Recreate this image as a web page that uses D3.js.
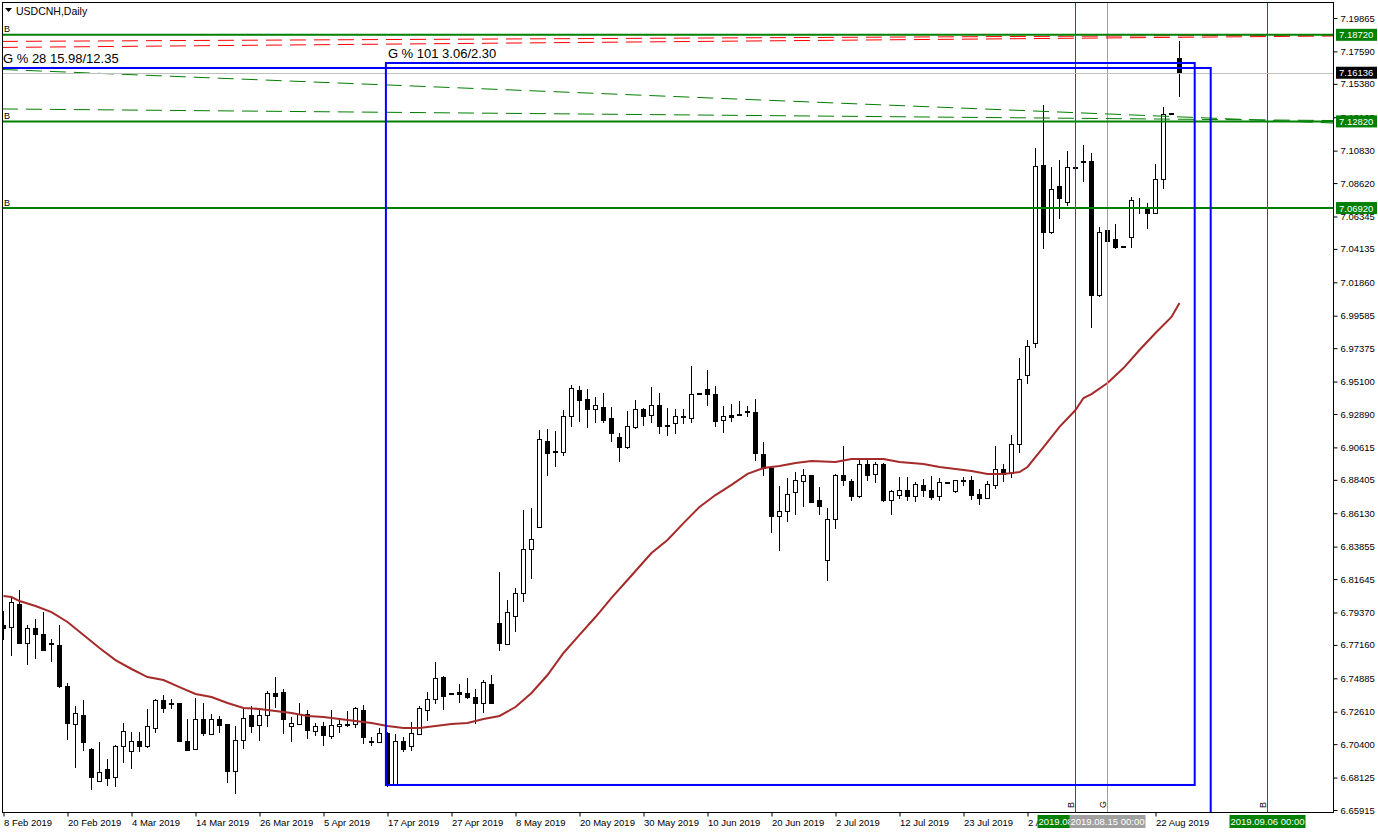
<!DOCTYPE html>
<html><head><meta charset="utf-8">
<script src="https://cdn.jsdelivr.net/npm/d3@7/dist/d3.min.js"></script>
<style>
html,body{margin:0;padding:0;background:#fff;}
svg{display:block;}
text{font-family:"Liberation Sans",Arial,sans-serif;}
</style></head>
<body><div id="chart"></div>
<script>
// ---------- DATA ----------
const symbolTitle = "USDCNH,Daily";
const openP = [6.7845,6.7838,6.7988,6.7729,6.7825,6.7790,6.7724,6.7715,6.7436,6.7177,6.7232,6.7007,6.6789,6.6864,6.6810,6.7027,6.6993,6.7055,6.7021,6.7150,6.7334,6.7315,6.7314,6.7061,6.7007,6.7211,6.7109,6.7205,6.7171,6.6857,6.7068,6.7232,6.7164,6.7232,6.7382,6.7389,6.7157,6.7177,6.7245,6.7123,6.7157,6.7089,6.7157,6.7177,6.7177,6.7266,6.7048,6.7048,6.7116,6.6762,6.7061,6.7021,6.7109,6.7266,6.7341,6.7491,6.7382,6.7395,6.7382,6.7361,6.7314,6.7443,6.7859,6.7722,6.7913,6.8063,6.8363,6.8519,6.9105,6.9029,6.9030,6.9269,6.9446,6.9391,6.9323,6.9330,6.9255,6.9132,6.9064,6.9194,6.9323,6.9276,6.9350,6.9214,6.9221,6.9270,6.9255,6.9426,6.9453,6.9425,6.9242,6.9282,6.9283,6.9303,6.9296,6.9016,6.8921,6.8594,6.8622,6.8751,6.8826,6.8867,6.8703,6.8288,6.8567,6.8867,6.8826,6.8724,6.8948,6.8880,6.8942,6.8697,6.8737,6.8765,6.8724,6.8799,6.8765,6.8724,6.8820,6.8758,6.8839,6.8833,6.8744,6.8710,6.8799,6.8908,6.8887,6.9078,6.9548,6.9766,7.0979,7.0522,7.0842,7.0727,7.0966,7.1006,7.1012,7.0093,7.0542,7.0481,7.0427,7.0488,7.0693,7.0693,7.0658,7.0883,7.1329,7.1714];
const highP = [6.7947,6.8036,6.8090,6.7852,6.7893,6.7940,6.7756,6.7852,6.7457,6.7300,6.7341,6.7014,6.7055,6.6939,6.7034,6.7184,6.7123,6.7123,6.7280,6.7348,6.7375,6.7348,6.7317,6.7211,6.7354,6.7320,6.7245,6.7232,6.7174,6.7164,6.7280,6.7300,6.7286,6.7402,6.7497,6.7416,6.7225,6.7320,6.7273,6.7184,6.7191,6.7273,6.7218,6.7266,6.7293,6.7307,6.7089,6.7150,6.7120,6.7109,6.7089,6.7191,6.7300,6.7395,6.7600,6.7504,6.7389,6.7450,6.7491,6.7416,6.7477,6.7511,6.8213,6.8022,6.8104,6.8635,6.8649,6.9180,6.9187,6.9173,6.9316,6.9487,6.9480,6.9459,6.9405,6.9432,6.9337,6.9160,6.9309,6.9384,6.9330,6.9473,6.9432,6.9330,6.9323,6.9323,6.9616,6.9427,6.9589,6.9480,6.9344,6.9357,6.9378,6.9344,6.9391,6.9098,6.8928,6.8799,6.8853,6.8894,6.8914,6.8874,6.8792,6.8649,6.8881,6.9071,6.8846,6.8989,6.8989,6.8962,6.8955,6.8771,6.8860,6.8860,6.8826,6.8846,6.8867,6.8853,6.8821,6.8839,6.8860,6.8867,6.8778,6.8833,6.9071,6.8948,6.9146,6.9670,6.9793,7.1101,7.1394,7.0972,7.1019,7.1080,7.0967,7.1122,7.1067,7.0563,7.0645,7.0583,7.0429,7.0767,7.0760,7.0726,7.0992,7.1380,7.1335,7.1830];
const lowP = [6.7750,6.7641,6.7725,6.7579,6.7620,6.7678,6.7600,6.7423,6.7068,6.6878,6.6993,6.6728,6.6785,6.6755,6.6748,6.6912,6.6871,6.6987,6.7014,6.7116,6.7252,6.7280,6.7052,6.6993,6.7000,6.7096,6.7106,6.7116,6.6775,6.6701,6.7007,6.7116,6.7061,6.7157,6.7286,6.7109,6.7055,6.7174,6.7075,6.7096,6.7027,6.7075,6.7116,6.7157,6.7150,6.7041,6.7027,6.7045,6.6748,6.6755,6.6987,6.6993,6.7102,6.7198,6.7314,6.7273,6.7375,6.7320,6.7348,6.7177,6.7252,6.7317,6.7675,6.7715,6.7804,6.8008,6.8165,6.8516,6.8867,6.8928,6.9003,6.9201,6.9235,6.9194,6.9228,6.9228,6.9098,6.8962,6.9051,6.9190,6.9207,6.9228,6.9153,6.9139,6.9153,6.9221,6.9228,6.9423,6.9344,6.9201,6.9160,6.9235,6.9279,6.9269,6.8969,6.8867,6.8478,6.8356,6.8553,6.8601,6.8656,6.8680,6.8601,6.8152,6.8506,6.8799,6.8697,6.8717,6.8833,6.8819,6.8690,6.8601,6.8710,6.8697,6.8690,6.8724,6.8703,6.8697,6.8817,6.8751,6.8799,6.8703,6.8669,6.8707,6.8778,6.8826,6.8853,6.9023,6.9493,6.9739,7.0413,7.0515,7.0617,7.0706,7.0963,7.0869,6.9875,7.0086,7.0290,7.0416,7.0418,7.0420,7.0651,7.0549,7.0655,7.0822,7.1327,7.1448];
const closeP = [6.7831,6.8002,6.7729,6.7825,6.7784,6.7681,6.7720,6.7436,6.7184,6.7252,6.7048,6.6816,6.6850,6.6803,6.7027,6.7123,6.7061,6.7027,6.7157,6.7334,6.7286,6.7313,6.7055,6.7000,6.7211,6.7116,6.7205,6.7164,6.6857,6.7068,6.7218,6.7157,6.7232,6.7382,6.7368,6.7211,6.7184,6.7239,6.7136,6.7157,6.7096,6.7164,6.7177,6.7164,6.7280,6.7082,6.7061,6.7116,6.6755,6.7061,6.7007,6.7116,6.7280,6.7341,6.7484,6.7368,6.7381,6.7375,6.7361,6.7320,6.7463,6.7320,6.7729,6.7940,6.8063,6.8363,6.8431,6.9112,6.9023,6.9031,6.9275,6.9466,6.9378,6.9323,6.9344,6.9248,6.9153,6.9064,6.9201,6.9323,6.9269,6.9350,6.9201,6.9201,6.9269,6.9268,6.9425,6.9424,6.9425,6.9235,6.9269,6.9262,6.9281,6.9296,6.9023,6.8921,6.8594,6.8622,6.8744,6.8833,6.8867,6.8683,6.8656,6.8567,6.8867,6.8833,6.8724,6.8942,6.8867,6.8942,6.8703,6.8758,6.8771,6.8724,6.8806,6.8771,6.8717,6.8819,6.8818,6.8833,6.8826,6.8737,6.8710,6.8812,6.8914,6.8874,6.9078,6.9527,6.9746,7.0972,7.0522,7.0815,7.0754,7.0965,7.0964,7.1004,7.0093,7.0522,7.0467,7.0420,7.0420,7.0740,7.0691,7.0658,7.0883,7.1326,7.1333,7.16136];
// moving average read at bar indices
const maIdx = [0,1,2,4,6,8,10,12,14,16,18,20,22,24,26,28,30,32,34,36,38,40,42,44,46,48,50,52,54,56,58,60,62,64,66,68,70,72,74,76,78,81,83,85,87,89,91,93,95,97,99,101,104,106,108,110,112,115,117,119,121,123,125,127,128,130,132,134,135,136,138,140,142,144,146,147];
const maVal = [6.8049,6.8042,6.8015,6.7981,6.7940,6.7872,6.7784,6.7695,6.7613,6.7552,6.7497,6.7477,6.7429,6.7382,6.7361,6.7320,6.7286,6.7280,6.7266,6.7252,6.7232,6.7225,6.7211,6.7198,6.7184,6.7164,6.7150,6.7150,6.7164,6.7177,6.7184,6.7211,6.7232,6.7293,6.7389,6.7511,6.7661,6.7784,6.7906,6.8036,6.8158,6.8342,6.8431,6.8546,6.8656,6.8737,6.8806,6.8881,6.8921,6.8935,6.8955,6.8969,6.8962,6.8983,6.8983,6.8983,6.8962,6.8948,6.8928,6.8914,6.8901,6.8880,6.8880,6.8894,6.8928,6.9064,6.9201,6.9316,6.9398,6.9425,6.9500,6.9602,6.9725,6.9841,6.9950,7.0045];
const priceTicks = [7.19865,7.17590,7.15380,7.13105,7.10830,7.08620,7.06345,7.04135,7.01860,6.99585,6.97375,6.95100,6.92890,6.90615,6.88405,6.86130,6.83855,6.81645,6.79370,6.77160,6.74885,6.72610,6.70400,6.68125,6.65915];
const dateTickIdx = [0,8,16,24,32,40,48,56,64,72,80,88,96,104,112,120,128,144];
const dateTickLabels = ["8 Feb 2019","20 Feb 2019","4 Mar 2019","14 Mar 2019","26 Mar 2019","5 Apr 2019","17 Apr 2019","27 Apr 2019","8 May 2019","20 May 2019","30 May 2019","10 Jun 2019","20 Jun 2019","2 Jul 2019","12 Jul 2019","23 Jul 2019","2 Aug 2019","22 Aug 2019"];
// objects
const levelPrices = [7.18720, 7.12820, 7.06920];
const lastPrice = 7.16136;
const redTrends = [[[-0.2,7.1827],[166.2,7.1871]], [[-0.2,7.1786],[166.2,7.1864]]];
const greenTrends = [[[-0.2,7.1636],[166.2,7.1271]], [[-0.2,7.1367],[166.2,7.1288]]];
const rectA = {i0:-3, i1:150.9, top:7.1646, bottom:6.60, label:"G % 28 15.98/12.35"};
const rectB = {i0:47.8, i1:148.9, top:7.1680, bottom:6.6762, label:"G % 101 3.06/2.30"};
const vLines = [{i:134, color:"#008000", tag:"B", date:"2019.08.09 00:00"},
                {i:138, color:"#a0a0a0", tag:"G", date:"2019.08.15 00:00"},
                {i:158, color:"#008000", tag:"B", date:"2019.09.06 00:00"}];

// ---------- LAYOUT ----------
const W = 1378, H = 834;
const L = 2, T = 2, R = 1333, B = 812;
const svg = d3.select("#chart").append("svg").attr("width", W).attr("height", H);
svg.append("rect").attr("width", W).attr("height", H).attr("fill", "#fff");

const x = d3.scaleLinear().domain([0, 147]).range([3.5, 3.5 + 8 * 147]);
const y = d3.scaleLinear().domain([6.65915, 7.19865]).range([810, 18]);

const defs = svg.append("defs");
defs.append("clipPath").attr("id", "plotclip").append("rect")
  .attr("x", L).attr("y", T).attr("width", R - L).attr("height", B - T);
const plot = svg.append("g").attr("clip-path", "url(#plotclip)");

// candles
const candles = d3.range(openP.length).map(i => ({i, o: openP[i], h: highP[i], l: lowP[i], c: closeP[i]}));
const cg = plot.append("g").attr("shape-rendering", "crispEdges");
cg.selectAll("line.wick").data(candles).join("line")
  .attr("x1", d => x(d.i)).attr("x2", d => x(d.i))
  .attr("y1", d => y(d.h)).attr("y2", d => y(d.l))
  .attr("stroke", "#000").attr("stroke-width", 1);
cg.selectAll("rect.body").data(candles).join("rect")
  .attr("x", d => x(d.i) - 2).attr("width", 4)
  .attr("y", d => y(Math.max(d.o, d.c)))
  .attr("height", d => Math.max(0.01, Math.abs(y(d.o) - y(d.c))))
  .attr("fill", d => d.c < d.o ? "#000" : "#fff")
  .attr("stroke", "#000").attr("stroke-width", 1);

// moving average
plot.append("path").datum(maIdx.map((d, k) => [d, maVal[k]]))
  .attr("d", d3.line().x(d => x(d[0])).y(d => y(d[1])))
  .attr("fill", "none").attr("stroke", "#a52a2a").attr("stroke-width", 2);

// objects: vertical lines
plot.selectAll("line.v").data(vLines).join("line")
  .attr("x1", d => x(d.i)).attr("x2", d => x(d.i)).attr("y1", T).attr("y2", B)
  .attr("stroke", d => d.color).attr("stroke-width", 1).attr("shape-rendering", "crispEdges");
plot.selectAll("text.vtag").data(vLines).join("text")
  .attr("transform", d => `translate(${x(d.i) - 2},${B - 4}) rotate(-90)`)
  .attr("font-size", 9).attr("fill", "#000").text(d => d.tag);

// red dashed trend lines
plot.selectAll("line.red").data(redTrends).join("line")
  .attr("x1", d => x(d[0][0])).attr("y1", d => y(d[0][1]))
  .attr("x2", d => x(d[1][0])).attr("y2", d => y(d[1][1]))
  .attr("stroke", "#ff0000").attr("stroke-width", 1).attr("stroke-dasharray", "16,8");
// green dashed trend lines
plot.selectAll("line.gd").data(greenTrends).join("line")
  .attr("x1", d => x(d[0][0])).attr("y1", d => y(d[0][1]))
  .attr("x2", d => x(d[1][0])).attr("y2", d => y(d[1][1]))
  .attr("stroke", "#008000").attr("stroke-width", 1).attr("stroke-dasharray", "16,8");

// current price line
plot.append("line").attr("x1", L).attr("x2", R).attr("y1", Math.round(y(lastPrice)) + 0.5).attr("y2", Math.round(y(lastPrice)) + 0.5)
  .attr("stroke", "#c0c0c0").attr("stroke-width", 1);

// green levels
plot.selectAll("line.lvl").data(levelPrices).join("line")
  .attr("x1", L).attr("x2", R).attr("y1", d => y(d)).attr("y2", d => y(d))
  .attr("stroke", "#008000").attr("stroke-width", 2);
plot.selectAll("text.lvl").data(levelPrices).join("text")
  .attr("x", 4).attr("y", d => y(d) - 2.5).attr("font-size", 9).attr("fill", "#000").text("B");

// rectangles
[rectA, rectB].forEach(r => {
  plot.append("rect")
    .attr("x", x(r.i0)).attr("y", y(r.top))
    .attr("width", x(r.i1) - x(r.i0)).attr("height", y(r.bottom) - y(r.top))
    .attr("fill", "none").attr("stroke", "#0000ff").attr("stroke-width", 2);
});
plot.append("text").attr("x", 3).attr("y", y(rectA.top) - 5).attr("font-size", 13).attr("fill", "#000").text(rectA.label);
plot.append("text").attr("x", x(rectB.i0) + 2).attr("y", y(rectB.top) - 5).attr("font-size", 13).attr("fill", "#000").text(rectB.label);

// frame
svg.append("rect").attr("x", L + 0.5).attr("y", T + 0.5).attr("width", R - L).attr("height", B - T)
  .attr("fill", "none").attr("stroke", "#000").attr("stroke-width", 1).attr("shape-rendering", "crispEdges");

// title
svg.append("path").attr("d", "M5,8 L12,8 L8.5,12 Z").attr("fill", "#000");
svg.append("text").attr("x", 16).attr("y", 15).attr("font-size", 10.5).attr("fill", "#000").text(symbolTitle);

// right price axis
const ay = svg.append("g").attr("transform", `translate(${R + 0.5},0)`)
  .call(d3.axisRight(y).tickValues(priceTicks).tickFormat(d3.format(".5f")).tickSize(4).tickPadding(3));
ay.select(".domain").remove();
ay.selectAll("text").attr("font-size", 9.5).attr("font-family", "Liberation Sans, Arial, sans-serif").attr("fill", "#000");
ay.selectAll("line").attr("stroke", "#000");

// price markers on axis
const markers = levelPrices.map(p => ({p, bg: "#008000"})).concat([{p: lastPrice, bg: "#000"}]);
const mg = svg.append("g");
markers.forEach(m => {
  const yy = y(m.p);
  mg.append("rect").attr("x", R + 3).attr("y", yy - 6).attr("width", 41).attr("height", 12).attr("fill", m.bg);
  mg.append("text").attr("x", R + 6).attr("y", yy + 3.5).attr("font-size", 9.5).attr("fill", "#fff").text(d3.format(".5f")(m.p));
});

// bottom date axis
const ax = svg.append("g").attr("transform", `translate(0,${B + 0.5})`)
  .call(d3.axisBottom(x).tickValues(dateTickIdx).tickFormat((d, k) => dateTickLabels[k]).tickSize(4).tickPadding(3));
ax.select(".domain").remove();
ax.selectAll("text").attr("text-anchor", "start").attr("dx", 0).attr("font-size", 9.5)
  .attr("font-family", "Liberation Sans, Arial, sans-serif").attr("fill", "#000");
ax.selectAll("line").attr("stroke", "#000");

// date markers for vertical lines
const dg = svg.append("g");
vLines.forEach(v => {
  const cx = x(v.i);
  dg.append("rect").attr("x", cx - 38).attr("y", B + 3).attr("width", 76).attr("height", 13).attr("fill", v.color);
  dg.append("text").attr("x", cx).attr("y", B + 13).attr("text-anchor", "middle").attr("font-size", 9.5).attr("fill", "#fff").text(v.date);
});
</script></body></html>
